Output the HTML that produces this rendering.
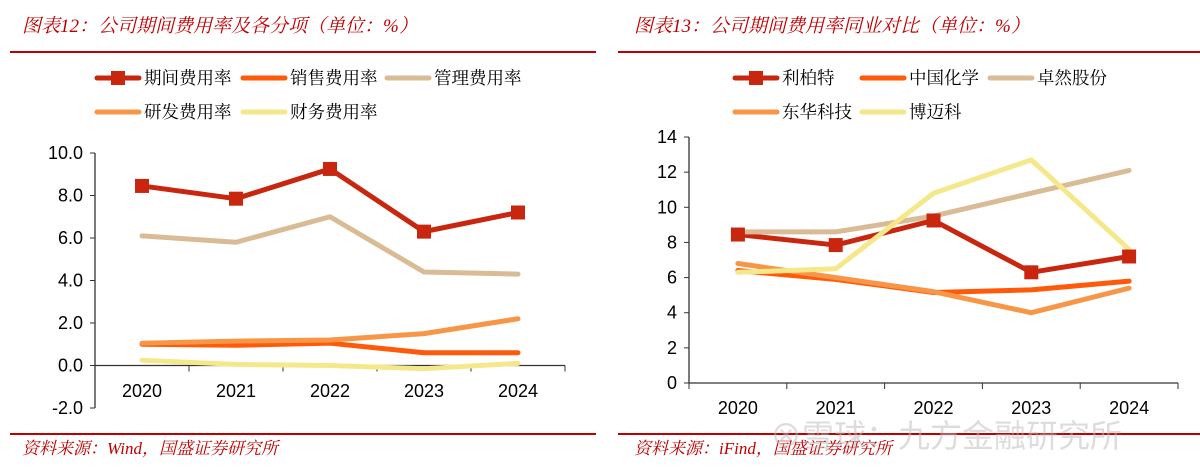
<!DOCTYPE html>
<html><head><meta charset="utf-8"><style>
body{margin:0;width:1200px;height:468px;background:#fff;overflow:hidden;font-family:"Liberation Sans","Noto Sans CJK SC",sans-serif}
svg{position:absolute;left:0;top:0}
</style></head><body>
<svg id="s" width="1200" height="468">
<text x="22" y="32" font-size="19" font-style="italic" fill="#c00000" font-family="Liberation Serif, Noto Serif CJK SC, serif">图表12：公司期间费用率及各分项（单位：%）</text>
<line x1="10" y1="52" x2="596" y2="52" stroke="#c00000" stroke-width="2"/>
<text x="634" y="32" font-size="19" font-style="italic" fill="#c00000" font-family="Liberation Serif, Noto Serif CJK SC, serif">图表13：公司期间费用率同业对比（单位：%）</text>
<line x1="618" y1="52" x2="1200" y2="52" stroke="#c00000" stroke-width="2"/>
<line x1="10" y1="434" x2="596" y2="434" stroke="#c00000" stroke-width="2"/>
<line x1="618" y1="434" x2="1200" y2="434" stroke="#c00000" stroke-width="2"/>
<text x="22" y="454" font-size="17" font-style="italic" fill="#c00000" font-family="Liberation Serif, Noto Serif CJK SC, serif">资料来源：Wind，国盛证券研究所</text>
<text x="634" y="454" font-size="17" font-style="italic" fill="#c00000" font-family="Liberation Serif, Noto Serif CJK SC, serif">资料来源：iFind，国盛证券研究所</text>
<text x="770" y="447" font-size="32" fill="#bbb" opacity="0.5">⊗雪球：九方金融研究所</text>
</svg>
<script>
const years=["2020","2021","2022","2023","2024"];
const lNames=["期间费用率","销售费用率","管理费用率","研发费用率","财务费用率"];
const lPeriod=[8.45,7.85,9.25,6.3,7.2];
const lSales=[1.0,0.95,1.05,0.6,0.6];
const lAdmin=[6.1,5.8,7.0,4.4,4.3];
const lRD=[1.05,1.15,1.2,1.5,2.2];
const lFin=[0.25,0.05,0.0,-0.15,0.1];
const lTicks=[10,8,6,4,2,0,-2];
const rNames=["利柏特","中国化学","卓然股份","东华科技","博迈科"];
const rLbt=[8.45,7.85,9.25,6.3,7.2];
const rZghx=[6.4,5.9,5.15,5.3,5.8];
const rZr=[8.6,8.6,9.5,10.8,12.1];
const rDh=[6.8,6.0,5.2,4.0,5.4];
const rBmk=[6.3,6.5,10.8,12.7,7.6];
const rTicks=[14,12,10,8,6,4,2,0];
const colors=["#c8260e","#ff5a0a","#d9bb96","#f79646","#f5e88a"];
const NS="http://www.w3.org/2000/svg";
const svg=document.getElementById('s');
function mk(t,a,txt){const e=document.createElementNS(NS,t);for(const k in a)e.setAttribute(k,a[k]);if(txt!=null)e.textContent=txt;svg.appendChild(e);return e;}
function chart(o){
  const y=v=>o.y0-(v-o.vmin)*o.ppu;
  const x=i=>o.x0+o.band*(i+0.5);
  const ax=mk('line',{x1:o.x0,y1:y(o.vmax),x2:o.x0,y2:y(o.vmin),stroke:'#333','stroke-width':1.3});
  
  
  o.ticks.forEach(t=>{
    mk('line',{x1:o.x0-5,y1:y(t),x2:o.x0,y2:y(t),stroke:'#333'});
    const tl=mk('text',{x:o.x0-12,y:y(t)+6,'font-size':18,'text-anchor':'end',fill:'#000'},o.fmt(t));
    
    
  });
  const xa=mk('line',{x1:o.x0,y1:y(0),x2:o.x0+o.band*5,y2:y(0),stroke:'#333','stroke-width':1.3});
  
  
  for(let i=0;i<=5;i++)mk('line',{x1:o.x0+o.band*i,y1:y(0),x2:o.x0+o.band*i,y2:y(0)+6,stroke:'#333'});
  years.forEach((yr,i)=>{
    const t=mk('text',{x:x(i),y:o.labY,'font-size':18,'text-anchor':'middle',fill:'#000'},yr);
    
    
  });
  o.series.forEach((s,k)=>{
    const p=mk('polyline',{points:s.map((v,i)=>x(i)+','+y(v)).join(' '),fill:'none',stroke:colors[k],'stroke-width':5,'stroke-linejoin':'round','stroke-linecap':'round'});
    
    
  });
  o.series[0].forEach((v,i)=>{
    const m=mk('rect',{x:x(i)-7,y:y(v)-7,width:14,height:14,fill:colors[0]});
    
    
  });
  o.legend.forEach((L,k)=>{
    const ln=mk('line',{x1:L[0],y1:L[1],x2:L[0]+42,y2:L[1],stroke:colors[k],'stroke-width':5,'stroke-linecap':'round'});
    
    
    if(k==0)mk('rect',{x:L[0]+14,y:L[1]-7,width:14,height:14,fill:colors[0]});
    const t=mk('text',{x:L[0]+47,y:L[1]+6,'font-size':17.5,fill:'#000','font-family':'Liberation Serif, Noto Serif CJK SC, serif'},o.names[k]);
    
    
  });
}
chart({id:'left',x0:95,band:94,y0:408,vmin:-2,vmax:10,ppu:21.25,ticks:lTicks,fmt:t=>t.toFixed(1),labY:397,
  series:[lPeriod,lSales,lAdmin,lRD,lFin],names:lNames,
  legend:[[97,78],[243,78],[387,78],[97,112],[243,112]]});
chart({id:'right',x0:689,band:97.8,y0:383,vmin:0,vmax:14,ppu:17.57,ticks:rTicks,fmt:t=>String(t),labY:414,
  series:[rLbt,rZghx,rZr,rDh,rBmk],names:rNames,
  legend:[[735,78],[862,78],[990,78],[735,112],[862,112]]});
</script>
</body></html>
